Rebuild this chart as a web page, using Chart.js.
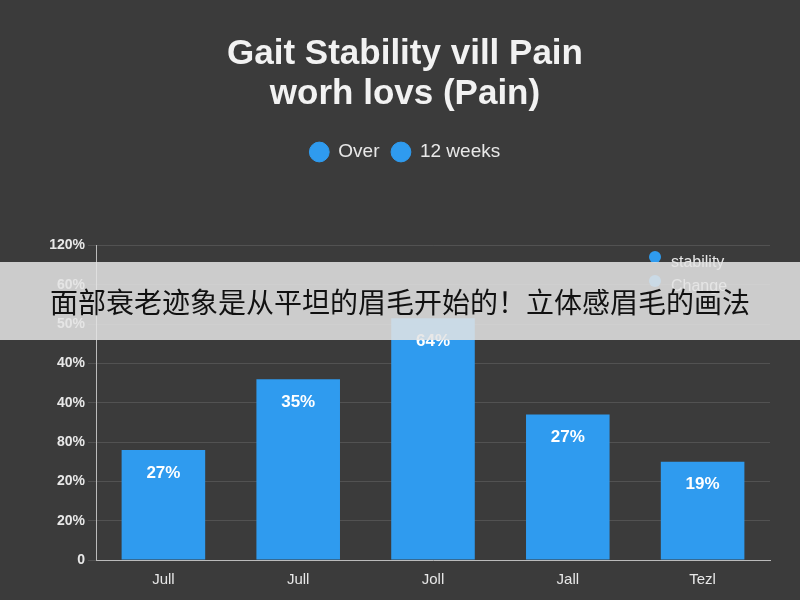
<!DOCTYPE html>
<html>
<head>
<meta charset="utf-8">
<script src="https://cdn.jsdelivr.net/npm/chart.js@4"></script>
<style>
  html, body { margin: 0; padding: 0; background: #3b3b3b; }
  #wrap { position: relative; width: 800px; height: 600px; }
  #banner {
    position: absolute; left: 0; top: 262px; width: 800px; height: 78px;
    background: rgba(228, 228, 228, 0.86); color: #111111;
    font-family: "Noto Sans CJK SC", sans-serif; font-size: 28px;
    line-height: 78px; text-align: center; white-space: nowrap;
  }
</style>
</head>
<body>
<div id="wrap">
  <canvas id="chart" width="800" height="600"></canvas>
  <div id="banner">面部衰老迹象是从平坦的眉毛开始的！立体感眉毛的画法</div>
</div>
<script>
// Chart data
const categories = ['Jull', 'Jull', 'Joll', 'Jall', 'Tezl'];
const barValues = [2.8, 4.6, 6.15, 3.7, 2.5];
const barLabels = ['27%', '35%', '64%', '27%', '19%'];
const tickLabels = ['0', '20%', '20%', '80%', '40%', '40%', '50%', '60%', '120%'];
const topLegend = ['Over', '12 weeks'];
const sideLegend = ['stability', 'Change'];

const BLUE = '#2f9bef';
const FONT = '"Liberation Sans", Arial, sans-serif';

// Background + bar labels + side legend
const decorPlugin = {
    id: 'decor',
    beforeUpdate(chart) {
        // leave a gap below the top legend
        const legend = chart.legend;
        if (legend && !legend._padded) {
            const fit = legend.fit;
            legend.fit = function () {
                fit.call(this);
                this.height += 74;
            };
            legend._padded = true;
        }
    },
    beforeDraw(chart) {
        const ctx = chart.ctx;
        ctx.save();
        ctx.fillStyle = '#3b3b3b';
        ctx.fillRect(0, 0, chart.width, chart.height);
        ctx.restore();
    },
    afterDatasetsDraw(chart) {
        const ctx = chart.ctx;
        const meta = chart.getDatasetMeta(0);
        ctx.save();
        ctx.fillStyle = '#ffffff';
        ctx.font = 'bold 17px ' + FONT;
        ctx.textAlign = 'center';
        meta.data.forEach((bar, i) => {
            ctx.fillText(barLabels[i], bar.x, bar.y + 23);
        });
        // right side legend
        ctx.textAlign = 'left';
        ctx.font = '16px ' + FONT;
        sideLegend.forEach((label, i) => {
            const y = 257 + i * 24;
            ctx.fillStyle = BLUE;
            ctx.beginPath();
            ctx.arc(655, y, 6, 0, Math.PI * 2);
            ctx.fill();
            ctx.fillStyle = '#e8e8e8';
            ctx.fillText(label, 671, y + 6);
        });
        ctx.restore();
    }
};

new Chart(document.getElementById('chart'), {
    type: 'bar',
    data: {
        labels: categories,
        datasets: [{
            label: 'Pain',
            data: barValues,
            backgroundColor: BLUE,
            barPercentage: 0.62,
            categoryPercentage: 1
        }]
    },
    options: {
        responsive: false,
        animation: false,
        layout: { padding: { left: 40, right: 30, top: 20, bottom: 8 } },
        plugins: {
            title: {
                display: true,
                text: ['Gait Stability vill Pain', 'worh lovs (Pain)'],
                color: '#f2f2f2',
                font: { family: FONT, size: 35, weight: 'bold', lineHeight: 1.15 },
                padding: { top: 14, bottom: 16 }
            },
            legend: {
                display: true,
                labels: {
                    color: '#e8e8e8',
                    font: { family: FONT, size: 19 },
                    usePointStyle: true,
                    pointStyle: 'circle',
                    boxWidth: 26,
                    boxHeight: 14,
                    padding: 12,
                    generateLabels: () => topLegend.map(t => ({
                        text: t, fillStyle: BLUE, strokeStyle: BLUE,
                        pointStyle: 'circle', fontColor: '#e8e8e8'
                    }))
                }
            },
            tooltip: { enabled: false }
        },
        scales: {
            x: {
                grid: { display: false },
                border: { color: '#bbbbbb' },
                ticks: { color: '#e8e8e8', font: { family: FONT, size: 15 } }
            },
            y: {
                min: 0,
                max: 8,
                afterFit(scale) { scale.width = 56; },
                grid: { color: 'rgba(255,255,255,0.12)' },
                border: { color: '#bbbbbb' },
                ticks: {
                    stepSize: 1,
                    color: '#e8e8e8',
                    font: { family: FONT, size: 14, weight: 'bold' },
                    callback: (v) => tickLabels[v]
                }
            }
        }
    },
    plugins: [decorPlugin]
});
</script>
</body>
</html>
